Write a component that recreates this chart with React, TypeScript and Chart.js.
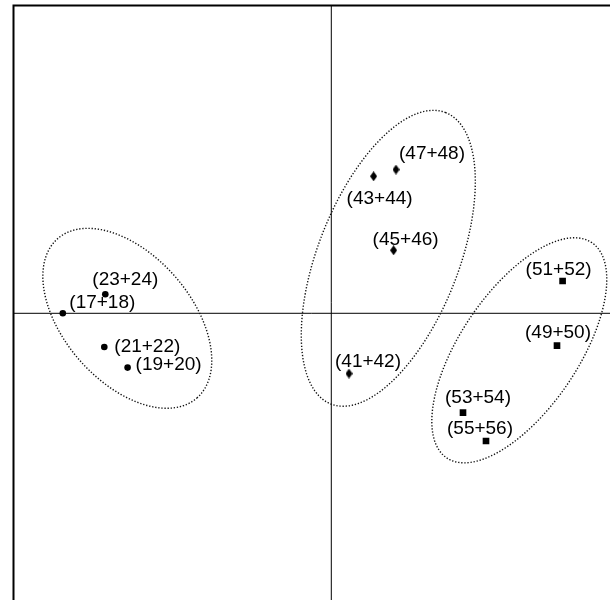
import React, { useEffect, useRef } from "react";
import { Chart, registerables } from "chart.js";

Chart.register(...registerables);

// Group 1 (circles)
const groupALabels = ["(17+18)", "(23+24)", "(21+22)", "(19+20)"];
const groupAX = [-2.685, -2.26, -2.27, -2.037];
const groupAY = [0.0, 0.19, -0.337, -0.543];
// Group 2 (diamonds)
const groupBLabels = ["(43+44)", "(47+48)", "(45+46)", "(41+42)"];
const groupBX = [0.423, 0.647, 0.623, 0.177];
const groupBY = [1.37, 1.437, 0.63, -0.603];
// Group 3 (squares)
const groupCLabels = ["(51+52)", "(49+50)", "(53+54)", "(55+56)"];
const groupCX = [2.313, 2.257, 1.317, 1.547];
const groupCY = [0.323, -0.323, -0.993, -1.277];

// Ellipses (data units)
const ellipseCX = [-2.04, 0.57, 1.88];
const ellipseCY = [-0.05, 0.55, -0.37];
const ellipseA = [1.058, 1.566, 1.298];
const ellipseB = [0.635, 0.703, 0.589];
const ellipseAngleDeg = [-48.85, 68.5, 56];

// Axis ranges
const xMin = -3.178;
const xMax = 2.787;
const yMin = -2.867;
const yMax = 3.078;

// Label placement (pixel offsets from the marker to the text start / baseline)
const labelOffsetsA = [[6.5, -5], [-13, -9], [10, 5], [8, 2]];
const labelOffsetsB = [[-27, 28], [3, -11], [-21, -5], [-14, -7]];
const labelOffsetsC = [[-37, -6], [-32, -8], [-18, -10], [-39, -7]];

function makeDiamond(): HTMLCanvasElement {
  const c = document.createElement("canvas");
  c.width = 7;
  c.height = 10;
  const g = c.getContext("2d")!;
  g.fillStyle = "#000";
  g.beginPath();
  g.moveTo(3.5, 0);
  g.lineTo(7, 5);
  g.lineTo(3.5, 10);
  g.lineTo(0, 5);
  g.closePath();
  g.fill();
  return c;
}

const toPts = (xs: number[], ys: number[]) => xs.map((x, i) => ({ x, y: ys[i] }));

export default function App() {
  const ref = useRef<HTMLCanvasElement | null>(null);

  useEffect(() => {
    if (!ref.current) return;
    const labels = [groupALabels, groupBLabels, groupCLabels];
    const offsets = [labelOffsetsA, labelOffsetsB, labelOffsetsC];

    const decor = {
      id: "decor",
      beforeDatasetsDraw(chart: any) {
        const { ctx, chartArea, scales } = chart;
        const W = chart.width;
        const H = chart.height;
        ctx.save();
        // frame (left and top sides; the rest lies outside the view)
        ctx.strokeStyle = "#000";
        ctx.lineWidth = 2;
        ctx.lineCap = "butt";
        ctx.beginPath();
        ctx.moveTo(chartArea.left, H);
        ctx.lineTo(chartArea.left, chartArea.top);
        ctx.lineTo(W, chartArea.top);
        ctx.stroke();
        // zero axes
        const x0 = scales.x.getPixelForValue(0);
        const y0 = scales.y.getPixelForValue(0);
        ctx.lineWidth = 1;
        ctx.beginPath();
        ctx.moveTo(x0, chartArea.top);
        ctx.lineTo(x0, H);
        ctx.moveTo(chartArea.left, y0);
        ctx.lineTo(W, y0);
        ctx.stroke();
        // ellipses
        ctx.setLineDash([1.3, 1.8]);
        ctx.lineWidth = 1.4;
        ctx.strokeStyle = "#111";
        for (let k = 0; k < ellipseCX.length; k++) {
          const th = (ellipseAngleDeg[k] * Math.PI) / 180;
          const ux = Math.cos(th), uy = Math.sin(th);
          const vx = -Math.sin(th), vy = Math.cos(th);
          ctx.beginPath();
          const N = 240;
          for (let i = 0; i <= N; i++) {
            const t = (i / N) * Math.PI * 2;
            const dx = ellipseA[k] * Math.cos(t) * ux + ellipseB[k] * Math.sin(t) * vx;
            const dy = ellipseA[k] * Math.cos(t) * uy + ellipseB[k] * Math.sin(t) * vy;
            const px = scales.x.getPixelForValue(ellipseCX[k] + dx);
            const py = scales.y.getPixelForValue(ellipseCY[k] + dy);
            if (i === 0) ctx.moveTo(px, py);
            else ctx.lineTo(px, py);
          }
          ctx.stroke();
        }
        ctx.restore();
      },
      afterDatasetsDraw(chart: any) {
        const { ctx } = chart;
        ctx.save();
        ctx.fillStyle = "#000";
        ctx.font = '19px "Liberation Sans", Arial, sans-serif';
        ctx.textAlign = "left";
        ctx.textBaseline = "alphabetic";
        for (let d = 0; d < labels.length; d++) {
          const meta = chart.getDatasetMeta(d);
          meta.data.forEach((el: any, i: number) => {
            const [ox, oy] = offsets[d][i];
            ctx.fillText(labels[d][i], el.x + ox, el.y + oy);
          });
        }
        ctx.restore();
      },
    };

    const chart = new Chart(ref.current, {
      type: "scatter",
      data: {
        datasets: [
          {
            data: toPts(groupAX, groupAY),
            pointStyle: "circle",
            pointRadius: 3.3,
            backgroundColor: "#000",
            borderColor: "#000",
            borderWidth: 0,
          },
          {
            data: toPts(groupBX, groupBY),
            pointStyle: makeDiamond(),
            pointRadius: 5,
            backgroundColor: "#000",
            borderColor: "#000",
            borderWidth: 0,
          },
          {
            data: toPts(groupCX, groupCY),
            pointStyle: "rect",
            pointRadius: 4.7,
            backgroundColor: "#000",
            borderColor: "#000",
            borderWidth: 0,
          },
        ],
      },
      options: {
        responsive: false,
        animation: false,
        layout: { autoPadding: false, padding: { left: 13.5, top: 5.5, right: 0, bottom: 0 } },
        plugins: { legend: { display: false }, tooltip: { enabled: false } },
        scales: {
          x: { type: "linear", display: false, min: xMin, max: xMax },
          y: { type: "linear", display: false, min: yMin, max: yMax },
        },
      },
      plugins: [decor],
    });
    return () => chart.destroy();
  }, []);

  return (
    <div style={{ position: "fixed", left: 0, top: 0, width: 610, height: 600, overflow: "hidden", background: "#fff" }}>
      <canvas ref={ref} width={610} height={600} style={{ display: "block" }} />
    </div>
  );
}
